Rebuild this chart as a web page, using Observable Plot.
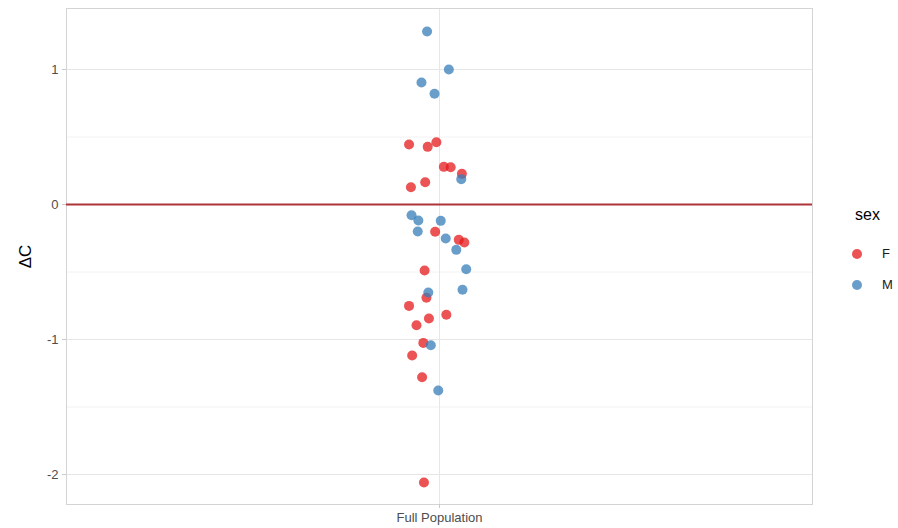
<!DOCTYPE html>
<html>
<head>
<meta charset="utf-8">
<script src="https://cdn.jsdelivr.net/npm/d3@7"></script>
<script src="https://cdn.jsdelivr.net/npm/@observablehq/plot@0.6"></script>
<style>
  html, body { margin: 0; padding: 0; background: #fff; }
  #wrap { position: relative; width: 898px; height: 528px; font-family: "Liberation Sans", Arial, sans-serif; }
  #legend { position: absolute; left: 840px; top: 206px; font-family: "Liberation Sans", Arial, sans-serif; }
  #legend .title { font-size: 16px; color: #000; margin-left: 15px; margin-bottom: 14px; }
  #legend .item { display: flex; align-items: center; height: 31px; font-size: 13px; color: #1a1a1a; }
  #legend .dot { width: 10px; height: 10px; border-radius: 50%; margin-left: 12px; margin-right: 20px; }
</style>
</head>
<body>
<div id="wrap"><div id="chart"></div><div id="legend"></div></div>
<script>
// Category (single group on the x axis)
const categories = ["Full Population"];
// Sex levels and colours
const sexLevels = ["F", "M"];
const sexColors = ["#E41A1C", "#377EB8"];

// Female points: jittered x position (category at 1) and ΔC
const femaleX = [0.951, 0.981, 0.995, 1.007, 1.018, 1.036, 0.977, 0.954, 0.993, 1.031, 1.040,
                 0.976, 0.979, 0.951, 1.011, 0.983, 0.963, 0.974, 0.956, 0.972, 0.975];
const femaleY = [0.444, 0.427, 0.461, 0.279, 0.276, 0.227, 0.165, 0.128, -0.202, -0.262, -0.281,
                 -0.489, -0.691, -0.751, -0.817, -0.844, -0.894, -1.025, -1.119, -1.279, -2.059];
// Male points
const maleX = [0.980, 1.015, 0.971, 0.992, 1.035, 0.955, 0.966, 1.002, 0.965, 1.010, 1.027,
               1.043, 0.982, 1.037, 0.986, 0.998];
const maleY = [1.281, 1.000, 0.904, 0.820, 0.188, -0.079, -0.119, -0.121, -0.200, -0.252, -0.336,
               -0.479, -0.652, -0.632, -1.042, -1.378];

const yTicks = [-2, -1, 0, 1];
const yTickLabels = ["-2", "-1", "0", "1"];
const yMinor = [-1.5, -0.5, 0.5];

const data = [
  ...femaleX.map((x, i) => ({x, y: femaleY[i], sex: "F"})),
  ...maleX.map((x, i) => ({x, y: maleY[i], sex: "M"}))
];

const plot = Plot.plot({
  width: 898,
  height: 528,
  marginLeft: 66,
  marginRight: 86,
  marginTop: 8,
  marginBottom: 24,
  style: { fontFamily: "Liberation Sans, Arial, sans-serif", background: "#fff" },
  x: { domain: [0.4, 1.6] },
  y: { domain: [-2.2222, 1.4519] },
  color: { domain: sexLevels, range: sexColors },
  marks: [
    Plot.gridY(yMinor, { stroke: "#f2f2f2", strokeOpacity: 1, strokeWidth: 1 }),
    Plot.gridY(yTicks, { stroke: "#e6e6e6", strokeOpacity: 1, strokeWidth: 1 }),
    Plot.gridX([1], { stroke: "#e6e6e6", strokeOpacity: 1, strokeWidth: 1 }),
    Plot.frame({ stroke: "#d4d4d4", strokeWidth: 1 }),
    Plot.axisY({ ticks: yTicks, tickSize: 4, tickPadding: 4, stroke: "#c8c8c8", fill: "#4d4d4d", fontSize: 13, label: null,
                 tickFormat: d => yTickLabels[yTicks.indexOf(d)] }),
    Plot.axisY({ ticks: [], tickSize: 0, label: "ΔC", labelAnchor: "center", labelArrow: "none", labelOffset: 48, fontSize: 17, fill: "#000" }),
    Plot.axisX({ ticks: [1], tickSize: 4, tickPadding: 4, stroke: "#c8c8c8", fill: "#4d4d4d", fontSize: 13, label: null, tickFormat: () => categories[0] }),
    Plot.ruleY([0], { stroke: "#ad3539", strokeWidth: 2 }),
    Plot.dot(data, { x: "x", y: "y", fill: "sex", r: 5, fillOpacity: 0.75, stroke: null })
  ]
});
document.getElementById("chart").appendChild(plot);

const legend = document.getElementById("legend");
legend.innerHTML = `<div class="title">sex</div>` + sexLevels.map((s, i) =>
  `<div class="item"><span class="dot" style="background:${sexColors[i]};opacity:0.75"></span>${s}</div>`).join("");
</script>
</body>
</html>
